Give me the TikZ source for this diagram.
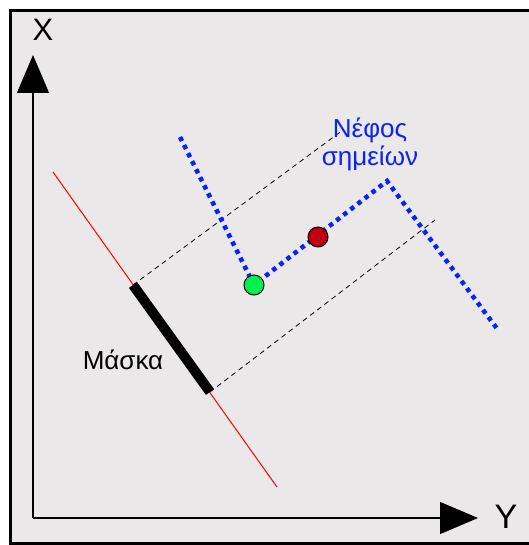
\documentclass[tikz,border=0pt]{standalone}
\usepackage{fontspec}
\setmainfont{Liberation Sans}
\usetikzlibrary{arrows.meta}
\definecolor{panelgray}{RGB}{234,232,233}
\definecolor{cloudblue}{RGB}{10,34,245}
\definecolor{pointgreen}{RGB}{0,240,80}
\definecolor{pointred}{RGB}{192,0,16}

\begin{document}
\begin{tikzpicture}[x=1pt, y=-1pt,
        axis/.style={line width=1.2pt, -{Triangle[width=32pt,length=38pt]}},
        cloud/.style={cloudblue, line width=4.5pt, dash pattern=on 4.5pt off 4.5pt},
        guide/.style={line width=0.8pt, dash pattern=on 5pt off 4pt},
        point/.style={circle, draw, line width=1pt, minimum size=20pt, inner sep=0pt}]
        \useasboundingbox (0,0) rectangle (528,545);
        % panel
        \fill[white] (0,0) rectangle (528,545);
        \fill[panelgray] (10,10) rectangle (560,543);
        \draw[line width=3pt] (560,10.5) -- (10.5,10.5) -- (10.5,543) -- (560,543);

        % axes
        \coordinate (origin) at (33,518);
        \coordinate (xtip) at (33,55);
        \coordinate (ytip) at (478,518);
        \draw[axis] (origin) -- (xtip);
        \draw[axis] (origin) -- (ytip);
        \node[font=\fontsize{31}{31}\selectfont, anchor=base] (xlabel) at (43,41) {X};
        \node[font=\fontsize{34}{34}\selectfont, anchor=base] (ylabel) at (506,528) {Y};

        % mask on its line
        \coordinate (r1) at (53,172);
        \coordinate (r2) at (277,487);
        \coordinate (m1) at (133,285);
        \coordinate (m2) at (210,392);
        \draw[red, line width=1pt] (r1) -- (r2);
        \draw[line width=10pt] (m1) -- (m2);
        \node[font=\fontsize{26}{26}\selectfont, anchor=base] (mask) at (123,369) {Μάσκα};

        % projection guides
        \coordinate (g1) at (343,130);
        \coordinate (g2) at (435,220);
        \draw[guide] (m1) -- (g1);
        \draw[guide] (m2) -- (g2);

        % point cloud
        \coordinate (c1) at (180,137);
        \coordinate (c2) at (254,285);
        \coordinate (c3) at (387,181);
        \coordinate (c4) at (498,330);
        \draw[cloud] (c1) -- (c2) -- (c3) -- (c4);
        \node[point, fill=pointgreen] (green) at (c2) {};
        \node[point, fill=pointred] (red) at (318,237) {};
        \node[cloudblue, font=\fontsize{26}{28}\selectfont, align=center] (cloudlabel) at (370,144) {Νέφος\\σημείων};
\end{tikzpicture}
\end{document}
